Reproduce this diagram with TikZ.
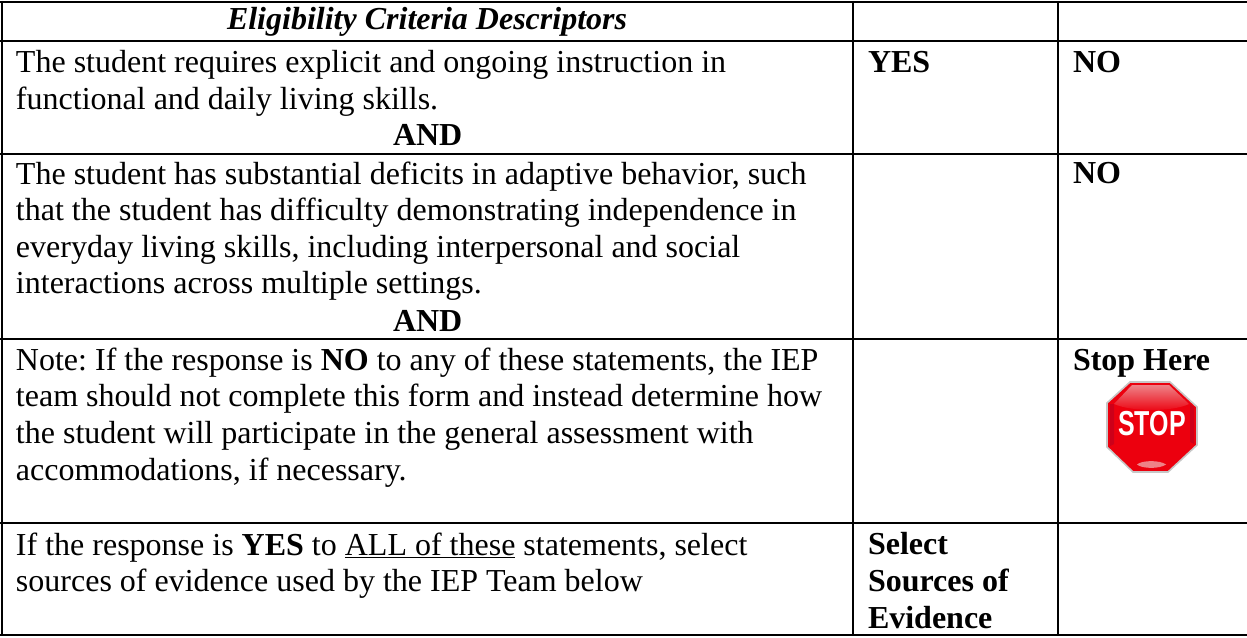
\documentclass[tikz,border=0pt]{standalone}
\usepackage{fontspec}
\setmainfont{Liberation Serif}
\newfontfamily\signfont{Liberation Sans}
\definecolor{stopred}{RGB}{236,0,14}
\definecolor{stopdark}{RGB}{205,0,25}
\definecolor{stoppink}{RGB}{238,130,135}
\tikzset{
  x=0.75pt,y=-0.75pt,
  grid/.style={line width=1.7pt,black},
  body/.style={anchor=base west,inner sep=0pt,outer sep=0pt,align=left,font=\fontsize{24}{27.45}\selectfont\frenchspacing,text=black},
  head/.style={body,font=\fontsize{24}{27.45}\selectfont\bfseries},
}
\begin{document}
\begin{tikzpicture}
\useasboundingbox (0,0) rectangle (1247,638);
\fill[white] (0,0) rectangle (1247,638);
\foreach \yy in {2,41,154,339,523,635}{\draw[grid] (0,\yy) -- (1247,\yy);}
\foreach \xx in {2,853,1058}{\draw[grid] (\xx,1) -- (\xx,636);}
\node[head,font=\fontsize{24}{27.45}\selectfont\bfseries\itshape] (h) at (227,30) {Eligibility Criteria Descriptors};
\node[body] (a) at (16,109.6) {The student requires explicit and ongoing instruction in\\functional and daily living skills.};
\node[head] (and1) at (393,146) {AND};
\node[body] (b) at (16,294) {The student has substantial deficits in adaptive behavior, such\\that the student has difficulty demonstrating independence in\\everyday living skills, including interpersonal and social\\interactions across multiple settings.};
\node[head] (and2) at (393,331) {AND};
\node[body] (c) at (16,480) {Note: If the response is \textbf{NO} to any of these statements, the IEP\\team should not complete this form and instead determine how\\the student will participate in the general assessment with\\accommodations, if necessary.};
\node[body] (d) at (16,591.6) {If the response is \textbf{YES} to \underline{ALL of these} statements, select\\sources of evidence used by the IEP Team below};
\node[head] (yes) at (868,73) {YES};
\node[head] (no1) at (1073,73) {NO};
\node[head] (no2) at (1073,184) {NO};
\node[head] (stop) at (1073,370) {Stop Here};
\node[head] (sel) at (868,628) {Select\\Sources of\\Evidence};
% stop sign
\draw[line width=1.2pt,draw=black!22,fill=stopred] (1130,382) -- (1170,382) -- (1197,407) -- (1197,445) -- (1168,472) -- (1133,472) -- (1107,447) -- (1107,403) -- cycle;
\shade[top color=stoppink,bottom color=stopred] (1132,385) -- (1169,385) -- (1189,404) .. controls (1172,412) and (1132,412) .. (1114,404) -- cycle;
\fill[stopdark] (1110,404) -- (1114,404) -- (1114,444) -- (1110,446) -- cycle;
\fill[stopdark] (1190,404) -- (1194,407) -- (1194,444) -- (1190,442) -- cycle;
\fill[stoppink] (1137,464.5) .. controls (1142,460) and (1160,460) .. (1166,464.5) .. controls (1160,469) and (1142,469) .. (1137,464.5) -- cycle;
\node[inner sep=0pt,text=white,font=\fontsize{26}{26}\signfont\bfseries] (sign) at (1152,424) {\scalebox{0.72}[1]{STOP}};
\end{tikzpicture}
\end{document}
